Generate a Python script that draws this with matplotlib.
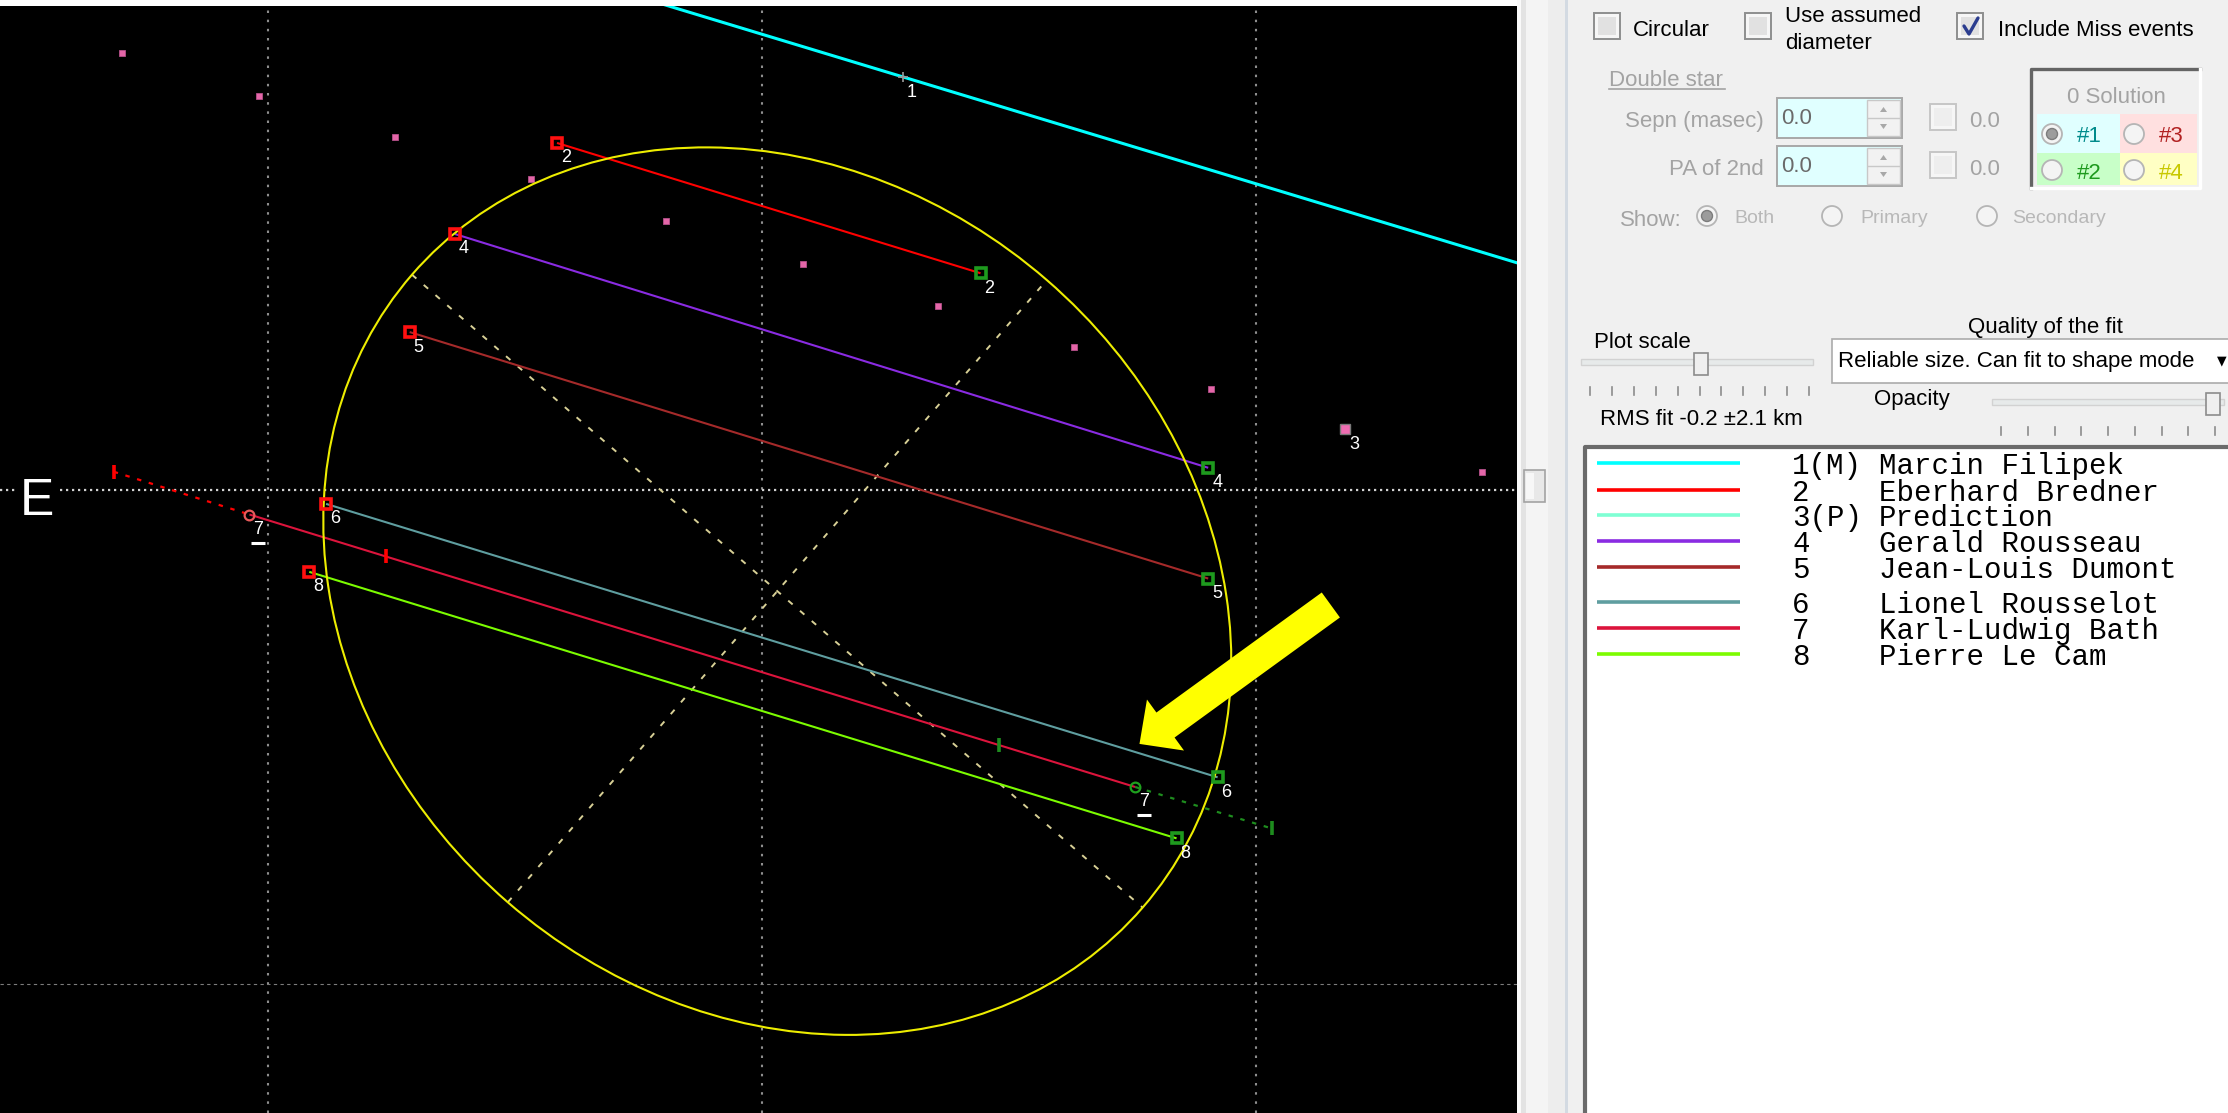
import numpy as np
import matplotlib
matplotlib.use("Agg")
import matplotlib.pyplot as plt
import matplotlib.transforms as mtransforms
from matplotlib.patches import Ellipse, Rectangle, Circle, FancyArrow, Polygon

plt.rcParams['font.family'] = ['Liberation Sans', 'DejaVu Sans']

# ---------------- observations (km, fundamental plane) ----------------
chord_ids = ['2', '4', '5', '6', '7', '8']
chord_x_start = [-8.29, -12.43, -14.25, -17.63, -20.73, -18.31]
chord_y_start = [14.04, 10.36, 6.39, -0.56, -0.99, -3.31]
chord_x_end = [8.84, 18.05, 18.05, 18.43, 15.09, 16.77]
chord_y_end = [8.77, 0.90, -3.58, -11.62, -12.01, -14.09]
chord_colors = ['#FF0000', '#8A2BE2', '#A52A2A', '#5F9EA0', '#DC143C', '#7CFC00']
chord_markers = ['s', 's', 's', 's', 'o', 's']

# miss event (observer 1)
miss_id = '1'
miss_x = [-8.0, 32.0]
miss_y = [20.86, 8.75]
miss_mark_x = 5.70
miss_mark_y = 16.70

# timing uncertainty of chord 7
ext7_before_x = [-26.22, -20.73]
ext7_before_y = [0.74, -0.99]
ext7_after_x = [15.09, 20.62]
ext7_after_y = [-12.01, -13.69]
tick7_red_x = [-26.22, -15.22]
tick7_red_y = [0.74, -2.68]
tick7_green_x = [9.59, 20.62]
tick7_green_y = [-10.32, -13.69]

# predicted path points (observer 3)
pred_x = [-25.88, -20.36, -14.84, -9.33, -3.87, 1.65, 7.11, 12.63, 18.15, 23.60, 29.12]
pred_y = [17.69, 15.94, 14.27, 12.58, 10.88, 9.13, 7.46, 5.80, 4.07, 2.46, 0.74]
pred_site = 9
pred_id = '3'

# fitted profile
ell_cx, ell_cy = 0.62, -4.09
ell_a, ell_b = 19.55, 16.65
ell_pa = -40.9

# plot window and grid
x_lim = (-30.82, 30.54)
y_lim = (-25.20, 19.58)
grid_x = [-20, 0, 20]
grid_y_main = 0
grid_y_minor = -20

# highlight arrow (tail -> tip)
arrow_tail = (23.01, -4.65)
arrow_tip = (15.27, -10.27)

# legend contents
legend_nums = ['1(M)', '2', '3(P)', '4', '5', '6', '7', '8']
legend_names = ['Marcin Filipek', 'Eberhard Bredner', 'Prediction', 'Gerald Rousseau',
                'Jean-Louis Dumont', 'Lionel Rousselot', 'Karl-Ludwig Bath', 'Pierre Le Cam']
legend_colors = ['#00FFFF', '#FF0000', '#7FFFD4', '#8A2BE2', '#A52A2A', '#5F9EA0', '#DC143C', '#7CFC00']

W, H = 2228, 1113
fig = plt.figure(figsize=(W / 100, H / 100), dpi=100)

# ---------------- control panel (pixel layout) ----------------
ui = fig.add_axes([0, 0, 1, 1])
ui.set_xlim(0, W)
ui.set_ylim(H, 0)
ui.axis('off')
ui.add_patch(Rectangle((0, 0), W, H, fc='white', ec='none', zorder=0))
PANEL = '#F0F0F0'
GRAY_TXT = '#A3A3A3'
ui.add_patch(Rectangle((1517, 0), W - 1517, H, fc=PANEL, ec='none'))
# splitter / scroll strip
ui.add_patch(Rectangle((1517, 0), 4, H, fc='#FAFAFA', ec='none'))
ui.add_patch(Rectangle((1521, 0), 5, H, fc='#E3E3E3', ec='none'))
ui.add_patch(Rectangle((1526, 0), 22, H, fc='#F4F4F4', ec='none'))
ui.add_patch(Rectangle((1548, 0), 17, H, fc='#EDEDED', ec='none'))
ui.add_patch(Rectangle((1565, 0), 2.5, H, fc='#D3DAE2', ec='none'))
ui.add_patch(Rectangle((1524, 470), 21, 32, fc='#E8E8E8', ec='#A3A3A3', lw=1.2))
ui.add_patch(Rectangle((1526, 473), 8, 26, fc='#F7F7F7', ec='none'))


def text(x, y, s, color='black', size=16, ha='left', **kw):
    ui.text(x, y, s, color=color, fontsize=size, ha=ha, va='baseline', **kw)


def checkbox(x, y, size=26, checked=False, enabled=True):
    ec = '#8E8F8F' if enabled else '#C6C6C6'
    ui.add_patch(Rectangle((x, y), size, size, fc='#F6F6F6', ec=ec, lw=1.4))
    ui.add_patch(Rectangle((x + 4, y + 4), size - 8, size - 8,
                           fc='#E1E1E1' if enabled else '#EEEEEE', ec='none'))
    if checked:
        ui.plot([x + 7, x + 12, x + 21], [y + 13, y + 21, y + 5], color='#2B3D8F',
                lw=2.4, solid_capstyle='round', solid_joinstyle='round')


def radio(cx, cy, r=10, selected=False):
    ui.add_patch(Circle((cx, cy), r, fc='#F4F4F4', ec='#B5B5B5', lw=1.3))
    if selected:
        ui.add_patch(Circle((cx, cy), r * 0.55, fc='#9C9C9C', ec='#7C7C7C', lw=1.0))


def slider(x0, x1, y, thumb_x, ticks):
    ui.add_patch(Rectangle((x0, y - 3), x1 - x0, 6, fc='#E7EAEA', ec='#D2D2D2', lw=1))
    ui.add_patch(Rectangle((thumb_x - 7, y - 9), 14, 22, fc='#EFEFEF', ec='#8C8C8C', lw=1.2))
    for tx in ticks:
        ui.plot([tx, tx], [y + 25, y + 33], color='#8C8C8C', lw=1.2)


checkbox(1594, 13)
text(1633, 36, 'Circular')
checkbox(1745, 13)
text(1785, 22, 'Use assumed')
text(1785, 49, 'diameter')
checkbox(1957, 13, checked=True)
text(1998, 36, 'Include Miss events')

text(1609, 86, 'Double star', color=GRAY_TXT)
ui.plot([1609, 1725], [89, 89], color=GRAY_TXT, lw=1.2)
text(1764, 127, 'Sepn (masec)', color=GRAY_TXT, ha='right')
text(1764, 175, 'PA of 2nd', color=GRAY_TXT, ha='right')
for ty in (98, 146):
    ui.add_patch(Rectangle((1777, ty), 125, 40, fc='#E0FFFF', ec='#A8A8A8', lw=1.4))
    ui.add_patch(Rectangle((1867, ty + 2), 33, 36, fc='#F2F2F2', ec='#C8C8C8', lw=1))
    ui.plot([1868, 1899], [ty + 20, ty + 20], color='#C8C8C8', lw=1)
    ui.add_patch(Polygon([[1880, ty + 14], [1887, ty + 14], [1883.5, ty + 9]], fc='#A8A8A8', ec='none'))
    ui.add_patch(Polygon([[1880, ty + 26], [1887, ty + 26], [1883.5, ty + 31]], fc='#A8A8A8', ec='none'))
    text(1781, ty + 26, '0.0', color='#6A6A6A')
    checkbox(1930, ty + 6, size=26, enabled=False)
    text(1969, ty + 29, '0.0', color=GRAY_TXT)

# solution selector
ui.add_patch(Rectangle((2030, 68), 170, 120, fc=PANEL, ec='none'))
ui.plot([2031, 2031, 2200], [188, 69, 69], color='#646464', lw=2.4)
ui.plot([2031, 2200, 2200], [188, 188, 69], color='white', lw=2.4)
text(2116, 103, '0 Solution', color=GRAY_TXT, ha='center')
ui.add_patch(Rectangle((2037, 114), 83, 39, fc='#E0FFFF', ec='none'))
ui.add_patch(Rectangle((2120, 114), 77, 39, fc='#FFE0E0', ec='none'))
ui.add_patch(Rectangle((2037, 153), 83, 32, fc='#C8FFC8', ec='none'))
ui.add_patch(Rectangle((2120, 153), 77, 32, fc='#FFFFC4', ec='none'))
radio(2052, 134, selected=True)
radio(2134, 134)
radio(2052, 170)
radio(2134, 170)
text(2077, 142, '#1', color='#008B8B')
text(2159, 142, '#3', color='#B22222')
text(2077, 179, '#2', color='#1E9A1E')
text(2159, 179, '#4', color='#C8C800')

text(1620, 226, 'Show:', color=GRAY_TXT)
radio(1707, 216, selected=True)
text(1734, 223, 'Both', color='#B8B8B8', size=14)
radio(1832, 216)
text(1860, 223, 'Primary', color='#B8B8B8', size=14)
radio(1987, 216)
text(2012, 223, 'Secondary', color='#B8B8B8', size=14)

text(2045, 333, 'Quality of the fit', ha='center')
text(1594, 348, 'Plot scale')
slider(1581, 1813, 362, 1701, np.linspace(1590, 1809, 11))
ui.add_patch(Rectangle((1832, 339), 420, 44, fc='white', ec='#ABABAB', lw=1.2))
text(1838, 367, 'Reliable size. Can fit to shape mode')
ui.text(2222, 361, '\u25BC', fontsize=9, ha='center', va='center', color='black',
        family=['DejaVu Sans'])
text(1874, 405, 'Opacity')
slider(1992, 2224, 402, 2213, np.linspace(2001, 2215, 9))
text(1600, 425, 'RMS fit -0.2 \u00B12.1 km')

# legend list box
ui.add_patch(Rectangle((1583, 445), W - 1583 + 10, H - 445 + 10, fc='white', ec='none'))
ui.plot([1585, 1585, W + 5], [H + 5, 447, 447], color='#6B6B6B', lw=3)
legend_rows = [463, 490, 515, 541, 567, 602, 628, 654]
for ry, num, name, col in zip(legend_rows, legend_nums, legend_names, legend_colors):
    ui.plot([1597, 1740], [ry, ry], color=col, lw=2.6, solid_capstyle='butt')
    ui.text(1792, ry + 11, num, fontsize=21, family=['Liberation Mono', 'DejaVu Sans Mono'],
            va='baseline', ha='left', color='black')
    ui.text(1879, ry + 11, name, fontsize=21, family=['Liberation Mono', 'DejaVu Sans Mono'],
            va='baseline', ha='left', color='black')

# ---------------- occultation plot ----------------
ax = fig.add_axes([0, 0, 1517 / W, 1107 / H])
ax.set_facecolor('black')
ax.set_xlim(*x_lim)
ax.set_ylim(*y_lim)
ax.set_xticks([])
ax.set_yticks([])
for sp in ax.spines.values():
    sp.set_visible(False)

for gx in grid_x:
    ax.axvline(gx, color='#8e8e8e', lw=1.5, ls=(0, (1.2, 3.2)), zorder=1)
ax.axhline(grid_y_main, color='#d2d2d2', lw=1.6, ls=(0, (1.0, 1.7)), zorder=1)
ax.axhline(grid_y_minor, color='#7c7c7c', lw=0.8, ls=(0, (3, 3)), zorder=1)

ax.annotate('E', xy=(0, grid_y_main), xycoords=('axes fraction', 'data'),
            xytext=(37, -11), textcoords='offset pixels', ha='center', va='center',
            color='white', fontsize=37,
            bbox=dict(boxstyle='square,pad=0.05', fc='black', ec='none'), zorder=6)

# predicted path
ax.plot(pred_x, pred_y, ls='none', marker='s', ms=4.0, mfc='#E466A8', mec='#B5508A',
        mew=0.6, zorder=3)
ax.plot(pred_x[pred_site], pred_y[pred_site], marker='s', ms=7, mfc='#EE6DB2',
        mec='#7A7A7A', mew=1.0, zorder=3)

# miss chord
ax.plot(miss_x, miss_y, color='#00FFFF', lw=2.2, zorder=4, solid_capstyle='butt')
ax.plot(miss_mark_x, miss_mark_y, marker='+', ms=7, color='#9A9A9A', mew=1.2, zorder=5)

# fitted ellipse with its axes
theta = np.deg2rad(ell_pa)
ax.add_patch(Ellipse((ell_cx, ell_cy), 2 * ell_a, 2 * ell_b, angle=ell_pa, fill=False,
                     ec='#EDED00', lw=1.5, zorder=5))
u = np.array([np.cos(theta), np.sin(theta)])
v = np.array([-np.sin(theta), np.cos(theta)])
c = np.array([ell_cx, ell_cy])
for vec, r in ((u, ell_a), (v, ell_b)):
    p0, p1 = c - r * vec, c + r * vec
    ax.plot([p0[0], p1[0]], [p0[1], p1[1]], color='#D8D096', lw=1.4,
            ls=(0, (3, 5)), zorder=4)

# chord 7 timing uncertainty
ax.plot(ext7_before_x, ext7_before_y, color='#FF0000', lw=1.6, ls=(0, (2, 3.5)), zorder=4)
ax.plot(ext7_after_x, ext7_after_y, color='#1E8C1E', lw=1.6, ls=(0, (2, 3.5)), zorder=4)
ax.plot(tick7_red_x, tick7_red_y, ls='none', marker='|', ms=10, mew=2.6,
        color='#FF0000', zorder=6)
ax.plot(tick7_green_x, tick7_green_y, ls='none', marker='|', ms=10, mew=2.6,
        color='#1E8C1E', zorder=6)

# chords
for xs, ys, xe, ye, col, mk in zip(chord_x_start, chord_y_start, chord_x_end,
                                   chord_y_end, chord_colors, chord_markers):
    ax.plot([xs, xe], [ys, ye], color=col, lw=1.5, zorder=4, solid_capstyle='butt')
    if mk == 'o':
        ax.plot(xs, ys, marker='o', ms=7, mfc='none', mec='#E85A5A', mew=1.6, zorder=6)
        ax.plot(xe, ye, marker='o', ms=7, mfc='none', mec='#1EA01E', mew=1.6, zorder=6)
    else:
        ax.plot(xs, ys, marker='s', ms=7.5, mfc='none', mec='#FF1010', mew=2.6, zorder=6)
        ax.plot(xe, ye, marker='s', ms=7.5, mfc='none', mec='#1E9A1E', mew=2.6, zorder=6)

# observer number labels
lab_kw = dict(textcoords='offset pixels', xytext=(9, -15), ha='center', va='center',
              color='white', fontsize=13, zorder=7)
for cid, xs, ys, xe, ye in zip(chord_ids, chord_x_start, chord_y_start,
                               chord_x_end, chord_y_end):
    ax.annotate(cid, (xs, ys), **lab_kw)
    ax.annotate(cid, (xe, ye), **lab_kw)
ax.annotate(miss_id, (miss_mark_x, miss_mark_y), **lab_kw)
ax.annotate(pred_id, (pred_x[pred_site], pred_y[pred_site]), **lab_kw)

# underline for the chord 7 labels
under = mtransforms.offset_copy(ax.transData, fig=fig, x=9, y=-28, units='dots')
i7 = chord_ids.index('7')
ax.plot([chord_x_start[i7], chord_x_end[i7]], [chord_y_start[i7], chord_y_end[i7]],
        ls='none', marker='_', ms=10, mew=2.2, color='white', transform=under, zorder=7)

# highlight arrow
ax.add_patch(FancyArrow(arrow_tail[0], arrow_tail[1],
                        arrow_tip[0] - arrow_tail[0], arrow_tip[1] - arrow_tail[1],
                        width=1.25, head_width=2.55, head_length=1.3,
                        length_includes_head=True, fc='#FFFF00', ec='none', zorder=8))

fig.savefig('out.png', dpi=100)
